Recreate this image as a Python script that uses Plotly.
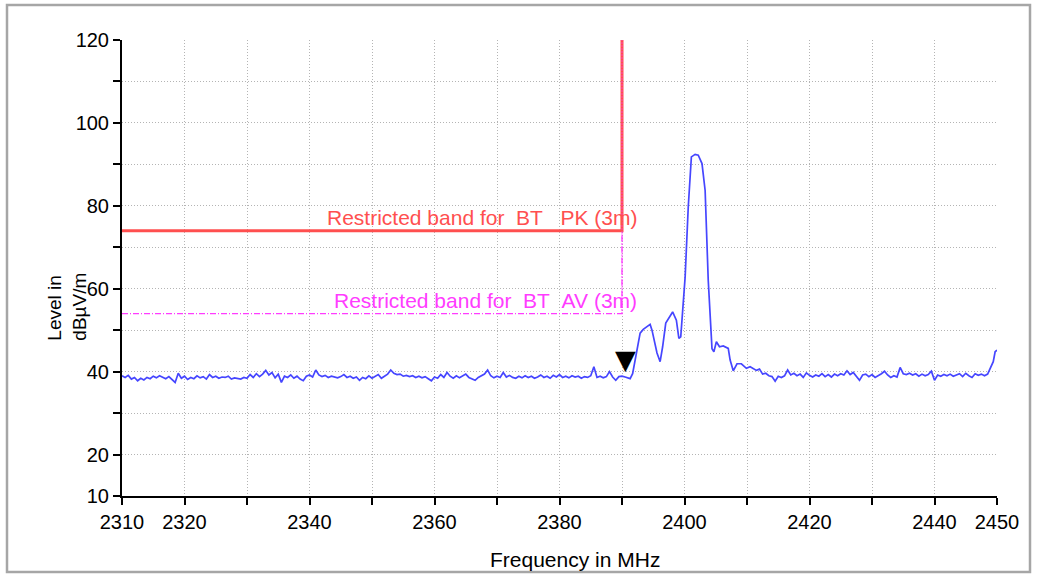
import numpy as np
import plotly.graph_objects as go

# ---- data ----
freq_left = np.arange(2310.0, 2391.01, 0.5)
level_left = [
    39.0, 38.6, 39.1, 38.2, 38.6, 37.8, 38.4, 38.0, 38.6, 38.3,
    38.9, 38.5, 39.0, 38.7, 38.3, 38.8, 38.2, 37.4, 39.6, 38.4,
    38.9, 38.1, 38.6, 38.3, 39.0, 38.5, 38.8, 38.2, 39.3, 38.6,
    38.9, 38.4, 38.7, 38.6, 38.9, 38.2, 38.5, 38.4, 38.2, 38.6,
    38.4, 39.3, 38.6, 39.5, 38.8, 39.4, 40.3, 39.2, 39.8, 38.5,
    39.4, 37.4, 38.9, 38.6, 39.2, 38.4, 38.9, 38.2, 37.8, 38.9,
    39.2, 38.7, 40.4, 39.2, 38.8, 39.1, 38.6, 38.9, 38.7, 38.5,
    38.8, 39.3, 38.6, 38.9, 38.4, 38.7, 37.9, 38.6, 38.3, 39.0,
    38.4, 38.9, 39.3, 38.4, 38.9, 39.4, 40.4, 39.6, 39.3, 39.4,
    38.9, 39.1, 38.8, 39.0, 38.6, 38.9, 38.5, 38.8, 38.3, 37.8,
    38.7, 38.4, 39.3, 38.6, 39.8, 38.9, 38.4, 39.0, 38.5, 38.9,
    39.4, 38.6, 38.2, 37.9, 38.6, 39.1, 39.4, 40.4, 39.0, 38.5,
    38.9, 38.6, 39.8, 38.7, 39.1, 38.6, 38.4, 38.9, 38.5, 39.0,
    38.6, 38.9, 38.4, 38.7, 39.2, 38.6, 38.9, 38.4, 39.1, 38.7,
    39.3, 38.6, 38.9, 38.5, 39.0, 38.7, 38.9, 38.4, 38.8, 38.6,
    39.0, 41.2, 38.6, 38.9, 38.5, 38.8, 40.0, 38.7, 37.9, 38.8,
    38.9, 38.7, 38.4,
]

freq_signal = [
    2391.3, 2391.7, 2392.1, 2392.5, 2392.9, 2393.4, 2393.9, 2394.5, 2394.8, 2395.2,
    2395.6, 2396.1, 2396.5, 2397.0, 2397.4, 2398.1, 2398.7, 2399.1, 2399.4, 2399.8,
    2400.1, 2400.6, 2401.1, 2401.7, 2402.2, 2402.8, 2403.3, 2403.8, 2404.4, 2404.7,
    2405.1, 2405.6, 2406.2, 2407.0, 2407.3, 2407.8, 2408.4, 2409.1, 2409.9, 2410.5,
    2411.0, 2411.5, 2412.0, 2412.5,
]
level_signal = [
    38.3, 39.5, 42.8, 46.0, 49.3, 50.2, 50.8, 51.4, 50.0, 47.5,
    44.5, 42.4, 46.0, 51.7, 52.8, 54.4, 52.4, 48.0, 48.4, 56.0,
    62.8, 79.7, 91.8, 92.4, 92.2, 90.2, 83.7, 62.0, 45.5, 44.8,
    47.2, 46.0, 46.2, 45.6, 42.8, 40.2, 41.9, 41.9, 40.8, 41.2,
    40.8, 40.3, 40.6, 39.4,
]

freq_right = list(np.arange(2413.0, 2448.51, 0.5)) + [2449.0, 2449.4, 2449.7, 2450.0]
level_right = [
    39.6, 39.0, 38.8, 37.7, 38.9, 38.6, 39.0, 40.4, 39.2, 39.6,
    39.0, 39.4, 38.6, 39.7, 39.1, 38.7, 39.2, 38.9, 39.5, 38.8,
    39.3, 38.7, 39.4, 39.0, 39.5, 39.2, 40.2, 39.3, 39.8, 38.9,
    37.9, 39.2, 39.4, 38.8, 39.3, 38.6, 39.0, 39.5, 40.1, 39.2,
    38.6, 39.0, 38.7, 41.0, 39.5, 39.3, 39.6, 39.2, 39.5, 38.9,
    39.4, 39.0, 39.3, 40.1, 37.9, 39.2, 38.9, 39.3, 39.0, 39.4,
    38.9, 39.2, 39.5, 38.8, 39.6, 39.0, 38.6, 39.5, 39.1, 39.4,
    39.0, 39.4, 41.0, 42.4, 44.8, 45.2,
]

freq = list(freq_left) + freq_signal + freq_right
level = level_left + level_signal + level_right

band_start = 2310
band_edge = 2390
pk_limit = 74
av_limit = 54
marker_freq = 2390.6
marker_level = 39.6
pk_label_freq = 2367.6
av_label_freq = 2368.1

pk_label = "Restricted band for\u00a0\u00a0BT\u00a0\u00a0\u00a0PK (3m)"
av_label = "Restricted band for\u00a0\u00a0BT\u00a0\u00a0AV (3m)"

x_ticks = list(range(2310, 2451, 10))
x_labels = ["2310", "2320", "", "2340", "", "2360", "", "2380", "", "2400", "", "2420", "", "2440", "2450"]
y_ticks = list(range(10, 121, 10))
y_labels = ["10", "20", "", "40", "", "60", "", "80", "", "100", "", "120"]

FONT = "Liberation Sans, Arial, Helvetica, sans-serif"
PK_COLOR = "#ff4f4f"
AV_COLOR = "#ff3cff"
TRACE_COLOR = "#4646ff"

fig = go.Figure()

fig.add_trace(go.Scatter(
    x=[band_start, band_edge, band_edge], y=[av_limit, av_limit, 120],
    mode="lines", line=dict(color=AV_COLOR, width=1.3, dash="6px,2px,1px,2px"),
    hoverinfo="skip", showlegend=False))
fig.add_trace(go.Scatter(
    x=[band_start, band_edge, band_edge], y=[pk_limit, pk_limit, 120],
    mode="lines", line=dict(color=PK_COLOR, width=3),
    hoverinfo="skip", showlegend=False))
fig.add_trace(go.Scatter(
    x=[band_edge, band_edge], y=[av_limit, 120],
    mode="lines", line=dict(color=AV_COLOR, width=1.2, dash="1px,2px"),
    hoverinfo="skip", showlegend=False))

fig.add_trace(go.Scatter(
    x=freq, y=level, mode="lines",
    line=dict(color=TRACE_COLOR, width=1.7),
    showlegend=False))

fig.add_annotation(x=pk_label_freq, y=pk_limit, text=pk_label,
                   showarrow=False, yanchor="bottom", yshift=0,
                   font=dict(family=FONT, size=21, color=PK_COLOR))
fig.add_annotation(x=av_label_freq, y=av_limit, text=av_label,
                   showarrow=False, yanchor="bottom", yshift=0,
                   font=dict(family=FONT, size=21, color=AV_COLOR))

fig.add_annotation(x=marker_freq, y=marker_level, text="\u25BC",
                   showarrow=False, yanchor="bottom", yshift=-4,
                   font=dict(family="DejaVu Sans", size=27, color="black"))

fig.add_annotation(xref="paper", yref="paper", x=0.518, y=-0.14,
                   text="Frequency in MHz", showarrow=False, yanchor="middle",
                   font=dict(family=FONT, size=21, color="black"))
fig.add_annotation(xref="paper", yref="paper", x=-0.063, y=0.415,
                   text="Level in<br>dB\u00b5V/m", showarrow=False, textangle=-90,
                   xanchor="center", yanchor="middle", align="left",
                   font=dict(family=FONT, size=19, color="black"))

fig.add_shape(type="rect", xref="paper", yref="paper",
              x0=-115 / 875, x1=1 + 33 / 875, y0=-76 / 456, y1=1 + 35 / 456,
              line=dict(color="#a6a6a6", width=2.5))

grid = dict(showgrid=True, gridcolor="#b4b4b4", gridwidth=1, griddash="1px,2px")
fig.update_xaxes(range=[2310, 2450], tickmode="array", tickvals=x_ticks, ticktext=x_labels,
                 showline=True, linecolor="black", linewidth=2,
                 ticks="outside", ticklen=7, tickwidth=2, tickcolor="black",
                 zeroline=False, tickfont=dict(family=FONT, size=20, color="black"),
                 **grid)
fig.update_yaxes(range=[10, 120], tickmode="array", tickvals=y_ticks, ticktext=y_labels,
                 showline=True, linecolor="black", linewidth=2,
                 ticks="outside", ticklen=7, tickwidth=2, tickcolor="black",
                 zeroline=False, tickfont=dict(family=FONT, size=20, color="black"),
                 **grid)

fig.update_layout(width=1037, height=574,
                  margin=dict(l=122, r=40, t=40, b=78),
                  paper_bgcolor="white", plot_bgcolor="white",
                  font=dict(family=FONT))

fig.write_html("out.html", config={"displayModeBar": False},
               post_script="document.body.style.margin='0px';document.body.style.overflow='hidden';")
